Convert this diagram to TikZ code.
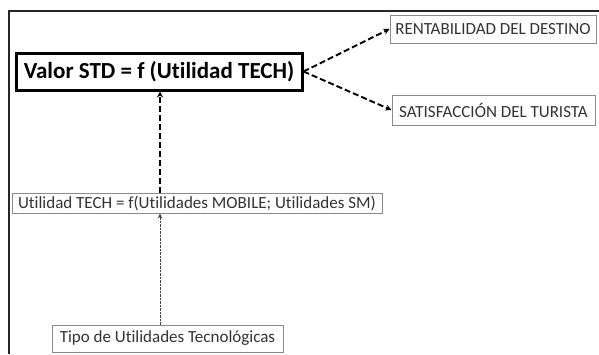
\documentclass[tikz,border=0pt]{standalone}
\usepackage{fontspec}
\setmainfont[Ligatures=NoCommon]{Carlito}
\usetikzlibrary{arrows.meta}
\definecolor{txt}{HTML}{333333}
\definecolor{edge}{HTML}{8A8A8A}
\tikzset{
  box/.style={draw=edge, line width=1pt, fill=white, text=txt, inner sep=0pt, font=\fontsize{17}{19}\selectfont},
  mainbox/.style={draw=black, line width=3pt, fill=white, inner sep=0pt, font=\fontsize{23}{26}\selectfont\bfseries},
  bigarrow/.style={draw=black, line width=1.9pt, dash pattern=on 6pt off 3pt, -{Stealth[length=6pt,width=6pt]}},
  thinarrow/.style={draw=black!75, line width=1pt, dash pattern=on 2.5pt off 1pt, -{Stealth[length=5pt,width=4.5pt]}}
}
\begin{document}
\begin{tikzpicture}[x=1pt,y=-1pt]
\useasboundingbox (0,0) rectangle (599,354);
% frame
\draw[line width=1.5pt, draw=black!85] (9,354) -- (9,11) -- (599,11);
% nodes
\node[mainbox, minimum width=286pt, minimum height=37pt] (main) at (159,71.5) {Valor STD = f (Utilidad TECH)};
\node[box, minimum width=206pt, minimum height=28pt] (rent) at (493,29) {RENTABILIDAD DEL DESTINO};
\node[box, minimum width=203pt, minimum height=30pt] (sat) at (493.5,110) {SATISFACCIÓN DEL TURISTA};
\node[box, minimum width=370pt, minimum height=20pt] (ut) at (197,203) {Utilidad TECH = f(Utilidades MOBILE; Utilidades SM)};
\node[box, minimum width=231pt, minimum height=27pt] (tipo) at (167.5,338.5) {Tipo de Utilidades Tecnológicas};
\coordinate (vx) at (160,0);
% connectors
\draw[bigarrow] (main.east) -- (rent.west);
\draw[bigarrow] (main.east) -- (sat.west);
\draw[bigarrow] (vx |- ut.north) -- (vx |- main.south);
\draw[thinarrow] (vx |- tipo.north) -- (vx |- ut.south);
\end{tikzpicture}
\end{document}
